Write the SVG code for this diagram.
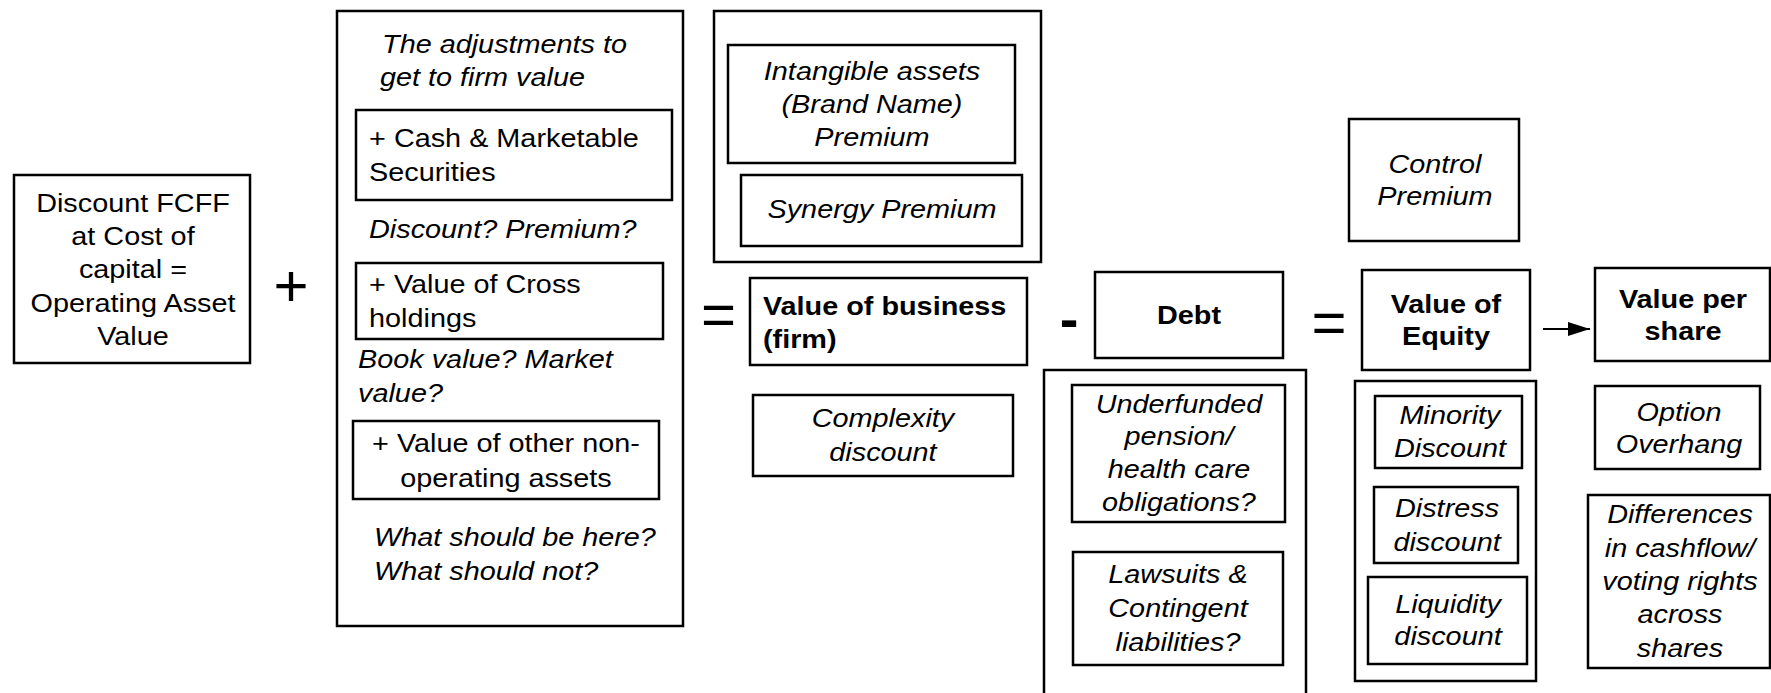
<svg xmlns="http://www.w3.org/2000/svg" width="1771" height="693" viewBox="0 0 1771 693">
<style>
rect{fill:#fff;stroke:#000;stroke-width:2.5}
text{font-family:"Liberation Sans",Arial,Helvetica,sans-serif;font-size:26.2px;fill:#000}
.i{font-style:italic}
.b{font-weight:bold}
.m{text-anchor:middle}
.op{font-size:60px;text-anchor:middle}
</style>
<defs>
<marker id="ah" viewBox="0 0 22 14" refX="22" refY="7" markerWidth="22" markerHeight="14" markerUnits="userSpaceOnUse" orient="auto">
<path d="M0,0 L22,7 L0,14 Z" fill="#000"/>
</marker>
</defs>

<g id="operating-asset">
<rect x="14" y="175" width="236" height="188"/>
<g transform="scale(1.1 1)">
<text class="m" x="120.9" y="212">Discount FCFF</text>
<text class="m" x="120.9" y="245">at Cost of</text>
<text class="m" x="120.9" y="278">capital =</text>
<text class="m" x="120.9" y="312">Operating Asset</text>
<text class="m" x="120.9" y="345">Value</text>
</g>
</g>

<g id="operators">
<text class="op" x="291" y="306">+</text>
<text class="op" x="718.5" y="334.5">=</text>
<text class="op b" x="1069" y="338" style="font-size:56px">-</text>
<text class="op" x="1329" y="342.5">=</text>
</g>

<g id="adjustments">
<rect x="337" y="11" width="346" height="615"/>
<g transform="scale(1.1 1)">
<text class="i" x="347.3" y="53">The adjustments to</text>
<text class="i" x="345.5" y="86">get to firm value</text>
<text class="i" x="335.5" y="238">Discount? Premium?</text>
<text class="i" x="325.5" y="368">Book value? Market</text>
<text class="i" x="325.5" y="402">value?</text>
<text class="i" x="340" y="546">What should be here?</text>
<text class="i" x="340" y="580">What should not?</text>
</g>
</g>

<g id="cash">
<rect x="356" y="110" width="316" height="90"/>
<g transform="scale(1.1 1)">
<text x="335.5" y="147">+ Cash &amp; Marketable</text>
<text x="335.5" y="181">Securities</text>
</g>
</g>

<g id="cross-holdings">
<rect x="356" y="263" width="307" height="76"/>
<g transform="scale(1.1 1)">
<text x="335.5" y="293">+ Value of Cross</text>
<text x="335.5" y="327">holdings</text>
</g>
</g>

<g id="other-assets">
<rect x="353" y="421" width="306" height="78"/>
<g transform="scale(1.1 1)">
<text class="m" x="460" y="452">+ Value of other non-</text>
<text class="m" x="460" y="487">operating assets</text>
</g>
</g>

<g id="premiums">
<rect x="714" y="11" width="327" height="251"/>
</g>

<g id="intangible">
<rect x="728" y="45" width="287" height="118"/>
<g transform="scale(1.1 1)">
<text class="i m" x="792.7" y="80">Intangible assets</text>
<text class="i m" x="792.7" y="113">(Brand Name)</text>
<text class="i m" x="792.7" y="146">Premium</text>
</g>
</g>

<g id="synergy">
<rect x="741" y="175" width="281" height="71"/>
<g transform="scale(1.1 1)">
<text class="i m" x="801.8" y="218">Synergy Premium</text>
</g>
</g>

<g id="value-of-business">
<rect x="750" y="278" width="277" height="87"/>
<g transform="scale(1.1 1)">
<text class="b" x="693.6" y="315">Value of business</text>
<text class="b" x="693.6" y="348">(firm)</text>
</g>
</g>

<g id="complexity">
<rect x="753" y="395" width="260" height="81"/>
<g transform="scale(1.1 1)">
<text class="i m" x="802.7" y="427">Complexity</text>
<text class="i m" x="802.7" y="461">discount</text>
</g>
</g>

<g id="debt">
<rect x="1095" y="272" width="188" height="86"/>
<g transform="scale(1.1 1)">
<text class="b m" x="1080.9" y="324">Debt</text>
</g>
</g>

<g id="debt-items">
<rect x="1044" y="370" width="262" height="335"/>
</g>

<g id="underfunded">
<rect x="1072" y="385" width="213" height="137"/>
<g transform="scale(1.1 1)">
<text class="i m" x="1071.8" y="413">Underfunded</text>
<text class="i m" x="1071.8" y="445">pension/</text>
<text class="i m" x="1071.8" y="478">health care</text>
<text class="i m" x="1071.8" y="511">obligations?</text>
</g>
</g>

<g id="lawsuits">
<rect x="1073" y="552" width="210" height="113"/>
<g transform="scale(1.1 1)">
<text class="i m" x="1070.9" y="583">Lawsuits &amp;</text>
<text class="i m" x="1070.9" y="617">Contingent</text>
<text class="i m" x="1070.9" y="651">liabilities?</text>
</g>
</g>

<g id="control">
<rect x="1349" y="119" width="170" height="122"/>
<g transform="scale(1.1 1)">
<text class="i m" x="1304.5" y="173">Control</text>
<text class="i m" x="1304.5" y="205">Premium</text>
</g>
</g>

<g id="value-of-equity">
<rect x="1362" y="270" width="168" height="100"/>
<g transform="scale(1.1 1)">
<text class="b m" x="1314.5" y="313">Value of</text>
<text class="b m" x="1314.5" y="345">Equity</text>
</g>
</g>

<g id="equity-discounts">
<rect x="1355" y="381" width="181" height="300"/>
</g>

<g id="minority">
<rect x="1375" y="396" width="147" height="72"/>
<g transform="scale(1.1 1)">
<text class="i m" x="1318.2" y="424">Minority</text>
<text class="i m" x="1318.2" y="457">Discount</text>
</g>
</g>

<g id="distress">
<rect x="1374" y="487" width="144" height="76"/>
<g transform="scale(1.1 1)">
<text class="i m" x="1315.5" y="517">Distress</text>
<text class="i m" x="1315.5" y="551">discount</text>
</g>
</g>

<g id="liquidity">
<rect x="1368" y="577" width="159" height="87"/>
<g transform="scale(1.1 1)">
<text class="i m" x="1316.4" y="613">Liquidity</text>
<text class="i m" x="1316.4" y="645">discount</text>
</g>
</g>

<g id="value-per-share">
<rect x="1595" y="268" width="175" height="93"/>
<g transform="scale(1.1 1)">
<text class="b m" x="1530" y="308">Value per</text>
<text class="b m" x="1530" y="340">share</text>
</g>
</g>

<g id="option-overhang">
<rect x="1595" y="386" width="165" height="83"/>
<g transform="scale(1.1 1)">
<text class="i m" x="1526.4" y="421">Option</text>
<text class="i m" x="1526.4" y="453">Overhang</text>
</g>
</g>

<g id="voting-rights">
<rect x="1588" y="495" width="182" height="173"/>
<g transform="scale(1.1 1)">
<text class="i m" x="1527.3" y="523">Differences</text>
<text class="i m" x="1527.3" y="557">in cashflow/</text>
<text class="i m" x="1527.3" y="590">voting rights</text>
<text class="i m" x="1527.3" y="623">across</text>
<text class="i m" x="1527.3" y="657">shares</text>
</g>
</g>

<g id="connectors">
<line x1="1543" y1="329" x2="1590" y2="329" stroke="#000" stroke-width="2" marker-end="url(#ah)"/>
</g>
</svg>
